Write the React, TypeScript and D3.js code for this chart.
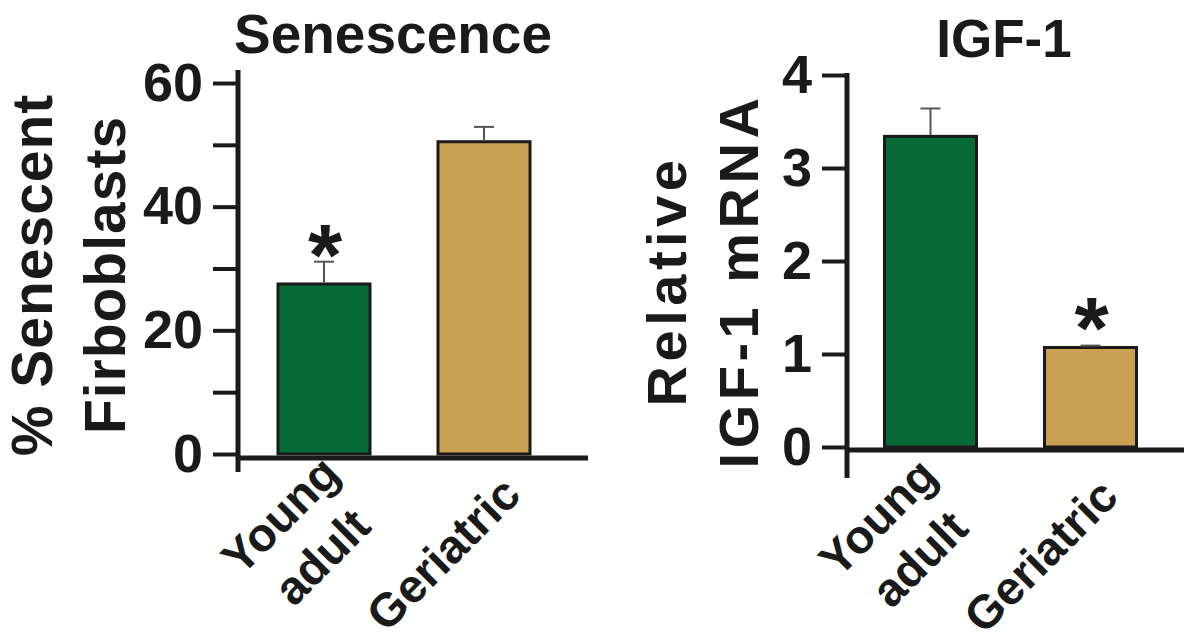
import React, { useEffect, useRef } from "react";
import * as d3 from "d3";

// Groups compared in both panels (line breaks shown with "|")
const groups = ["Young|adult", "Geriatric"];
const barColors = ["#066a37", "#c9a052"];

// Senescence panel: % senescent fibroblasts, mean and SEM
const senescenceMean = [27.5, 50.5];
const senescenceSem = [3.6, 2.4];
const senescenceStars = [true, false];
const senescenceTicks = [0, 10, 20, 30, 40, 50, 60];
const senescenceTickLabels = [0, 20, 40, 60];

// IGF-1 panel: relative IGF-1 mRNA, mean and SEM
const igfMean = [3.34, 1.07];
const igfSem = [0.3, 0.02];
const igfStars = [false, true];
const igfTicks = [0, 1, 2, 3, 4];
const igfTickLabels = [0, 1, 2, 3, 4];

const FONT = "'Liberation Sans', Arial, Helvetica, sans-serif";

type PanelSpec = {
  title: string;
  yTitle: string[];
  means: number[];
  sems: number[];
  stars: boolean[];
  yMax: number;
  ticks: number[];
  tickLabels: number[];
  box: {
    axisX: number;
    yBottom: number;
    yTop: number;
    axisTop: number;
    axisBottom: number;
    baseY: number;
    xEnd: number;
    barStart: number;
    barEnd: number;
    titleX: number;
    titleY: number;
    titleSize: number;
    yTitleX: number;
    yTitleY: number;
    yTitleSize: number;
    yTitleSpacing: number;
    yTitleGap: number;
    labelDx: number;
    labelDy: number;
    starGap: number;
  };
};

const panels: PanelSpec[] = [
  {
    title: "Senescence",
    yTitle: ["% Senescent", "Firboblasts"],
    means: senescenceMean,
    sems: senescenceSem,
    stars: senescenceStars,
    yMax: 60,
    ticks: senescenceTicks,
    tickLabels: senescenceTickLabels,
    box: {
      axisX: 238, yBottom: 454, yTop: 83, axisTop: 70, axisBottom: 472, baseY: 458,
      xEnd: 588, barStart: 278, barEnd: 530,
      titleX: 393, titleY: 53, titleSize: 55,
      yTitleX: 52, yTitleY: 275, yTitleSize: 57, yTitleSpacing: 1, yTitleGap: 73,
      labelDx: 39, labelDy: 39, starGap: 14,
    },
  },
  {
    title: "IGF-1",
    yTitle: ["Relative", "IGF-1 mRNA"],
    means: igfMean,
    sems: igfSem,
    stars: igfStars,
    yMax: 4,
    ticks: igfTicks,
    tickLabels: igfTickLabels,
    box: {
      axisX: 847, yBottom: 447, yTop: 75, axisTop: 73, axisBottom: 478, baseY: 450,
      xEnd: 1184, barStart: 884.5, barEnd: 1136.5,
      titleX: 1004, titleY: 57, titleSize: 53,
      yTitleX: 686, yTitleY: 281, yTitleSize: 56, yTitleSpacing: 4.5, yTitleGap: 72,
      labelDx: 30, labelDy: 49, starGap: 25,
    },
  },
];

function drawPanel(svg: d3.Selection<SVGSVGElement, unknown, null, undefined>, p: PanelSpec) {
  const b = p.box;
  const g = svg.append("g");

  const y = d3.scaleLinear().domain([0, p.yMax]).range([b.yBottom, b.yTop]);
  const x = d3
    .scaleBand<string>()
    .domain(groups)
    .range([b.barStart, b.barEnd])
    .paddingInner(0.425)
    .paddingOuter(0);

  // Title
  g.append("text")
    .attr("x", b.titleX)
    .attr("y", b.titleY)
    .attr("text-anchor", "middle")
    .attr("font-family", FONT)
    .attr("font-weight", "bold")
    .attr("font-size", b.titleSize)
    .attr("fill", "#1a1a1a")
    .text(p.title);

  // Y axis title (two lines, rotated)
  const yt = g
    .append("text")
    .attr("transform", `translate(${b.yTitleX},${b.yTitleY}) rotate(-90)`)
    .attr("text-anchor", "middle")
    .attr("font-family", FONT)
    .attr("font-weight", "bold")
    .attr("font-size", b.yTitleSize)
    .attr("letter-spacing", b.yTitleSpacing)
    .attr("fill", "#1a1a1a");
  p.yTitle.forEach((line, i) => {
    yt.append("tspan").attr("x", 0).attr("y", i * b.yTitleGap).text(line);
  });

  // Bars
  g.selectAll("rect.bar")
    .data(p.means)
    .join("rect")
    .attr("class", "bar")
    .attr("x", (_, i) => x(groups[i])!)
    .attr("width", x.bandwidth())
    .attr("y", (d) => y(d))
    .attr("height", (d) => y(0) - y(d))
    .attr("fill", (_, i) => barColors[i])
    .attr("stroke", "#1a1a1a")
    .attr("stroke-width", 3);

  // Error bars (upper half only) and significance marks
  p.means.forEach((m, i) => {
    const cx = x(groups[i])! + x.bandwidth() / 2;
    const top = y(m + p.sems[i]);
    g.append("line")
      .attr("x1", cx).attr("x2", cx)
      .attr("y1", y(m) - 1.5).attr("y2", top)
      .attr("stroke", "#555").attr("stroke-width", 2);
    g.append("line")
      .attr("x1", cx - 10).attr("x2", cx + 10)
      .attr("y1", top).attr("y2", top)
      .attr("stroke", "#555").attr("stroke-width", 2);
    if (p.stars[i]) {
      const fs = 88;
      g.append("text")
        .attr("x", cx + 1)
        .attr("y", top - b.starGap + 0.42 * fs)
        .attr("text-anchor", "middle")
        .attr("font-family", FONT)
        .attr("font-weight", "bold")
        .attr("font-size", fs)
        .attr("fill", "#1a1a1a")
        .text("*");
    }
  });

  // Y axis ticks and labels
  const axis = d3
    .axisLeft(y)
    .tickValues(p.ticks)
    .tickSize(25)
    .tickPadding(10)
    .tickFormat((d) => (p.tickLabels.includes(d as number) ? String(d) : ""));
  const ag = g.append("g").attr("transform", `translate(${b.axisX},0)`).call(axis);
  ag.select(".domain").remove();
  ag.selectAll(".tick line").attr("stroke", "#1a1a1a").attr("stroke-width", 4);
  ag.selectAll(".tick text")
    .attr("font-family", FONT)
    .attr("font-weight", "bold")
    .attr("font-size", 54)
    .attr("fill", "#1a1a1a");

  // Axis lines
  g.append("line")
    .attr("x1", b.axisX).attr("x2", b.axisX)
    .attr("y1", b.axisTop).attr("y2", b.axisBottom)
    .attr("stroke", "#1a1a1a").attr("stroke-width", 5);
  g.append("line")
    .attr("x1", b.axisX).attr("x2", b.xEnd)
    .attr("y1", b.baseY).attr("y2", b.baseY)
    .attr("stroke", "#1a1a1a").attr("stroke-width", 5);

  // Rotated category labels: block right-aligned to its widest line, centred lines
  const lh = 59;
  groups.forEach((label) => {
    const lines = label.split("|");
    const cx = x(label)! + x.bandwidth() / 2;
    const lg = g
      .append("g")
      .attr("transform", `translate(${cx + b.labelDx},${b.baseY + b.labelDy}) rotate(-45)`);
    const texts = lines.map((line, j) =>
      lg
        .append("text")
        .attr("y", (j - (lines.length - 1) / 2) * lh)
        .attr("text-anchor", "middle")
        .attr("font-family", FONT)
        .attr("font-weight", "bold")
        .attr("font-size", 47)
        .attr("fill", "#1a1a1a")
        .text(line)
    );
    const widths = texts.map((t) => (t.node() as SVGTextElement).getComputedTextLength());
    const maxW = d3.max(widths) ?? 0;
    texts.forEach((t) => t.attr("x", -maxW / 2));
  });
}

export default function App() {
  const ref = useRef<SVGSVGElement | null>(null);

  useEffect(() => {
    if (!ref.current) return;
    const svg = d3.select(ref.current);
    svg.selectAll("*").remove();
    panels.forEach((p) => drawPanel(svg, p));
  }, []);

  return (
    <svg
      ref={ref}
      width={1184}
      height={643}
      style={{ position: "absolute", left: 0, top: 0, background: "#fff" }}
    />
  );
}
